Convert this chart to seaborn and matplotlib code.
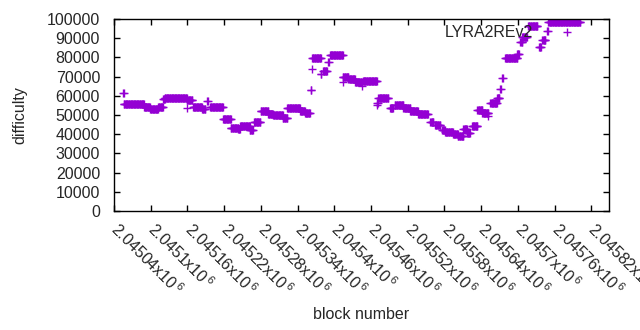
import numpy as np
import pandas as pd
import matplotlib
matplotlib.use("Agg")
import matplotlib.pyplot as plt
import seaborn as sns

# runs of constant difficulty: (first block, last block, difficulty)
run_start = [2045055, 2045056, 2045089, 2045099, 2045112, 2045120, 2045123, 2045159,
             2045169, 2045184, 2045192, 2045197, 2045218, 2045231, 2045243, 2045246,
             2045262, 2045269, 2045280, 2045292, 2045300, 2045316, 2045323, 2045344,
             2045352, 2045362, 2045363, 2045364, 2045378, 2045382, 2045390, 2045393,
             2045414, 2045423, 2045434, 2045447, 2045470, 2045472, 2045491, 2045499,
             2045513, 2045524, 2045537, 2045557, 2045565, 2045576, 2045581, 2045594,
             2045602, 2045611, 2045617, 2045625, 2045634, 2045642, 2045655, 2045666,
             2045671, 2045674, 2045679, 2045699, 2045704, 2045707, 2045717, 2045735,
             2045740, 2045748, 2045750]
run_end = [2045056, 2045089, 2045099, 2045112, 2045120, 2045123, 2045159, 2045168,
           2045184, 2045189, 2045193, 2045218, 2045231, 2045243, 2045246, 2045262,
           2045267, 2045279, 2045292, 2045300, 2045316, 2045323, 2045344, 2045352,
           2045360, 2045362, 2045363, 2045378, 2045379, 2045388, 2045391, 2045414,
           2045423, 2045434, 2045445, 2045470, 2045471, 2045488, 2045496, 2045513,
           2045524, 2045537, 2045553, 2045562, 2045573, 2045581, 2045594, 2045602,
           2045611, 2045617, 2045622, 2045634, 2045642, 2045652, 2045666, 2045670,
           2045672, 2045675, 2045699, 2045702, 2045707, 2045715, 2045732, 2045738,
           2045745, 2045749, 2045802]
run_value = [61300, 55500, 54000, 53300, 54000, 58300, 58700, 57800,
             54300, 53300, 57300, 54300, 47800, 43400, 42800, 44300,
             42200, 46500, 52200, 50500, 49800, 48300, 53500, 51900,
             50800, 63000, 73800, 79500, 71400, 72900, 77800, 81300,
             70000, 68600, 67400, 67700, 56500, 58700, 53500, 55200,
             53500, 51900, 50400, 46500, 44600, 42200, 41000, 39900,
             39200, 42500, 40500, 44400, 52600, 51200, 56100, 58700,
             63400, 69400, 79500, 81800, 88200, 90500, 96500, 85600,
             89000, 93800, 98300]

# isolated outlier blocks
extra_block = [2045159, 2045414, 2045445, 2045470, 2045652, 2045362]
extra_value = [53600, 67400, 65100, 55000, 49500, 63000]

blocks, diffs = [], []
for s, e, v in zip(run_start, run_end, run_value):
    for b in range(s, e + 1):
        blocks.append(b)
        diffs.append(v)
blocks += extra_block
diffs += extra_value
df = pd.DataFrame({"block number": blocks, "difficulty": diffs})

tick_blocks = [2045040 + 60 * k for k in range(14)]
tick_text = ["2.04504", "2.0451", "2.04516", "2.04522", "2.04528", "2.04534", "2.0454",
             "2.04546", "2.04552", "2.04558", "2.04564", "2.0457", "2.04576", "2.04582"]

sns.set_theme(style="white")
plt.rcParams["font.family"] = ["Liberation Sans", "DejaVu Sans"]
plt.rcParams["mathtext.fontset"] = "custom"
plt.rcParams["mathtext.rm"] = "Liberation Sans"

FS = 11.5
fig = plt.figure(figsize=(6.4, 3.3), dpi=100)
ax = fig.add_axes([114 / 640, 1 - 211 / 330, 495 / 640, 192 / 330])

color = "#9400d3"
sns.scatterplot(data=df, x="block number", y="difficulty", marker="+", s=40,
                color=color, linewidth=1.0, ax=ax, label="LYRA2REv2", zorder=2)

ax.set_xlim(2045040, 2045849)
ax.set_ylim(0, 100000)
ax.set_yticks(range(0, 100001, 10000))
ax.set_yticklabels([str(v) for v in range(0, 100001, 10000)], fontsize=FS)
ax.set_xticks(tick_blocks)
ax.set_xticklabels([t + r"x10$^{\,6}$" for t in tick_text], rotation=-45,
                   ha="left", va="center", rotation_mode="anchor", fontsize=FS)
ax.tick_params(axis="both", direction="in", length=4, width=1, color="black",
               top=True, right=True, bottom=True, left=True)
ax.tick_params(axis="x", pad=11)
ax.tick_params(axis="y", pad=10)
for sp in ax.spines.values():
    sp.set_color("black")
    sp.set_linewidth(1)
ax.set_xlabel("block number", fontsize=FS, labelpad=6)
ax.set_ylabel("difficulty", fontsize=FS, labelpad=14)

leg = ax.legend(loc="center right", bbox_to_anchor=(0.947, 0.932), frameon=False,
                markerfirst=False, fontsize=FS, handletextpad=1.1, borderpad=0,
                handlelength=2.0, borderaxespad=0)
leg.set_zorder(5)

fig.savefig("out.png", dpi=100)
